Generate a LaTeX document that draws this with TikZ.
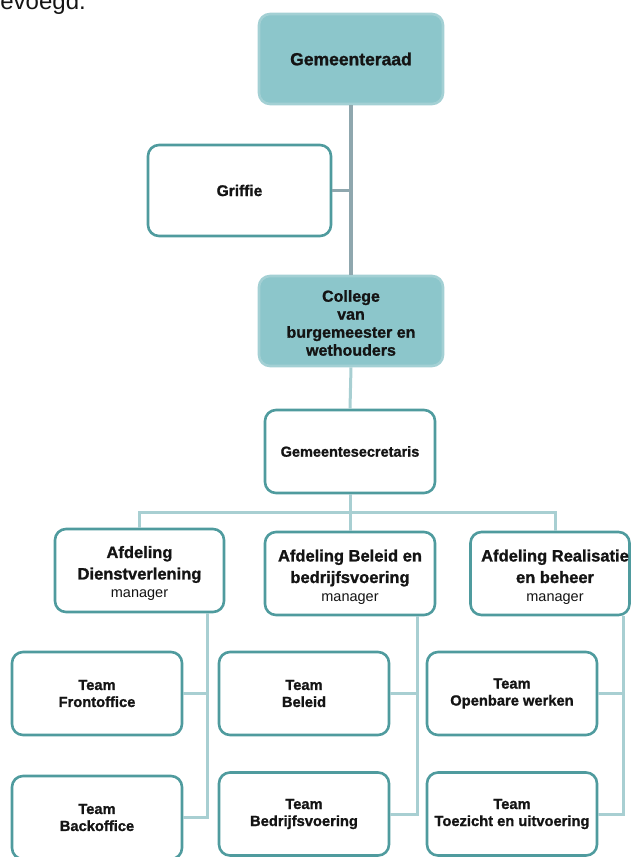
\documentclass[tikz,border=0pt]{standalone}
\usepackage{fontspec}
\setmainfont{Liberation Sans}[BoldFeatures={FakeBold=1.2}]
\definecolor{tealfill}{HTML}{8CC6CB}
\definecolor{tealedge}{HTML}{A3D0D4}
\definecolor{unitedge}{HTML}{4F9B9E}
\definecolor{topline}{HTML}{8FA7AE}
\definecolor{linkcol}{HTML}{A8CFD2}
\definecolor{ink}{HTML}{141414}
\begin{document}
\begin{tikzpicture}[x=1pt,y=-1pt,
  box/.style={rounded corners=11pt, line width=2.6pt, inner sep=0pt, align=center, text=ink},
  ledbox/.style={box, fill=tealfill, draw=tealedge},
  unitbox/.style={box, fill=white, draw=unitedge},
  teambox/.style={unitbox, minimum width=170pt, minimum height=83pt,
    font=\bfseries\fontsize{14.7}{17}\selectfont},
  deptbox/.style={unitbox, minimum width=170pt, minimum height=83pt},
  depttext/.style={inner sep=0pt, align=center, text=ink,
    font=\bfseries\fontsize{16.5}{21.5}\selectfont},
  trunk/.style={draw=topline, line width=4pt},
  link/.style={draw=linkcol, line width=3pt}]
\useasboundingbox (0,0) rectangle (632,857);
\clip (0,0) rectangle (632,857);

% running text above the chart
\node[anchor=base east, inner sep=0pt, text=ink, font=\fontsize{24}{28}\selectfont] (lead) at (86,9.5) {toegevoegd.};

% council, clerk and executive
\node[ledbox, minimum width=184pt, minimum height=90pt,
  font=\bfseries\fontsize{17.5}{21}\selectfont] (raad) at (351,59) {Gemeenteraad};
\node[unitbox, minimum width=183pt, minimum height=91pt,
  font=\bfseries\fontsize{15.5}{19}\selectfont] (griffie) at (239.5,190.5) {Griffie};
\node[ledbox, minimum width=184pt, minimum height=90pt,
  font=\bfseries\fontsize{16}{18}\selectfont, text depth=0pt] (college) at (351,321) {};
\node[inner sep=0pt, align=center, text=ink, font=\bfseries\fontsize{16}{18}\selectfont]
  (collegetxt) at (351,323) {College\\van\\burgemeester en\\wethouders};
\node[unitbox, minimum width=170pt, minimum height=83pt,
  font=\bfseries\fontsize{14.5}{18}\selectfont] (secr) at (350,451.5) {Gemeentesecretaris};

% departments (box first, wording on top)
\node[deptbox, minimum width=169pt] (dep1) at (139.5,570.5) {};
\node[depttext] (dep1txt) at (139.5,573.5)
  {Afdeling\\Dienstverlening\\[-3pt]{\mdseries\fontsize{14.5}{18}\selectfont manager}};
\node[deptbox] (dep2) at (350,573.5) {};
\node[depttext] (dep2txt) at (350,577)
  {Afdeling Beleid en\\bedrijfsvoering\\[-3pt]{\mdseries\fontsize{14.5}{18}\selectfont manager}};
\node[deptbox, minimum width=159pt] (dep3) at (550,573.5) {};
\node[depttext] (dep3txt) at (555,577)
  {Afdeling Realisatie\\en beheer\\[-3pt]{\mdseries\fontsize{14.5}{18}\selectfont manager}};

% teams
\node[teambox] (front) at (97,693.5) {Team\\Frontoffice};
\node[teambox] (back) at (97,817.5) {Team\\Backoffice};
\node[teambox] (beleid) at (304,693.5) {Team\\Beleid};
\node[teambox] (bedrijf) at (304,814) {Team\\Bedrijfsvoering};
\node[teambox] (openbaar) at (512,693.5) {Team\\Openbare werken};
\node[teambox] (toezicht) at (512,814) {Team\\Toezicht en uitvoering};

% helper positions for the bus and the department trunks
\coordinate (bus) at (0,512);
\coordinate (tr1) at (207,0);
\coordinate (tr2) at (417,0);
\coordinate (tr3) at (623,0);

% connectors
\draw[trunk] (raad.south) -- (college.north);
\draw[trunk, line width=3pt] (griffie.east) -- (griffie.east -| raad.south);
\draw[link] (college.south) -- (secr.north);
\draw[link] (secr.south) -- (secr.south |- bus);
\draw[link] (dep1.north) |- (bus -| dep3txt) -- (dep3txt |- dep3.north);
\draw[link] (dep2.north) -- (dep2.north |- bus);

\draw[link] (dep1.south -| tr1) |- (back.east);
\draw[link] (front.east) -- (front.east -| tr1);
\draw[link] (dep2.south -| tr2) |- (bedrijf.east);
\draw[link] (beleid.east) -- (beleid.east -| tr2);
\draw[link] (dep3.south -| tr3) |- (toezicht.east);
\draw[link] (openbaar.east) -- (openbaar.east -| tr3);
\end{tikzpicture}
\end{document}
